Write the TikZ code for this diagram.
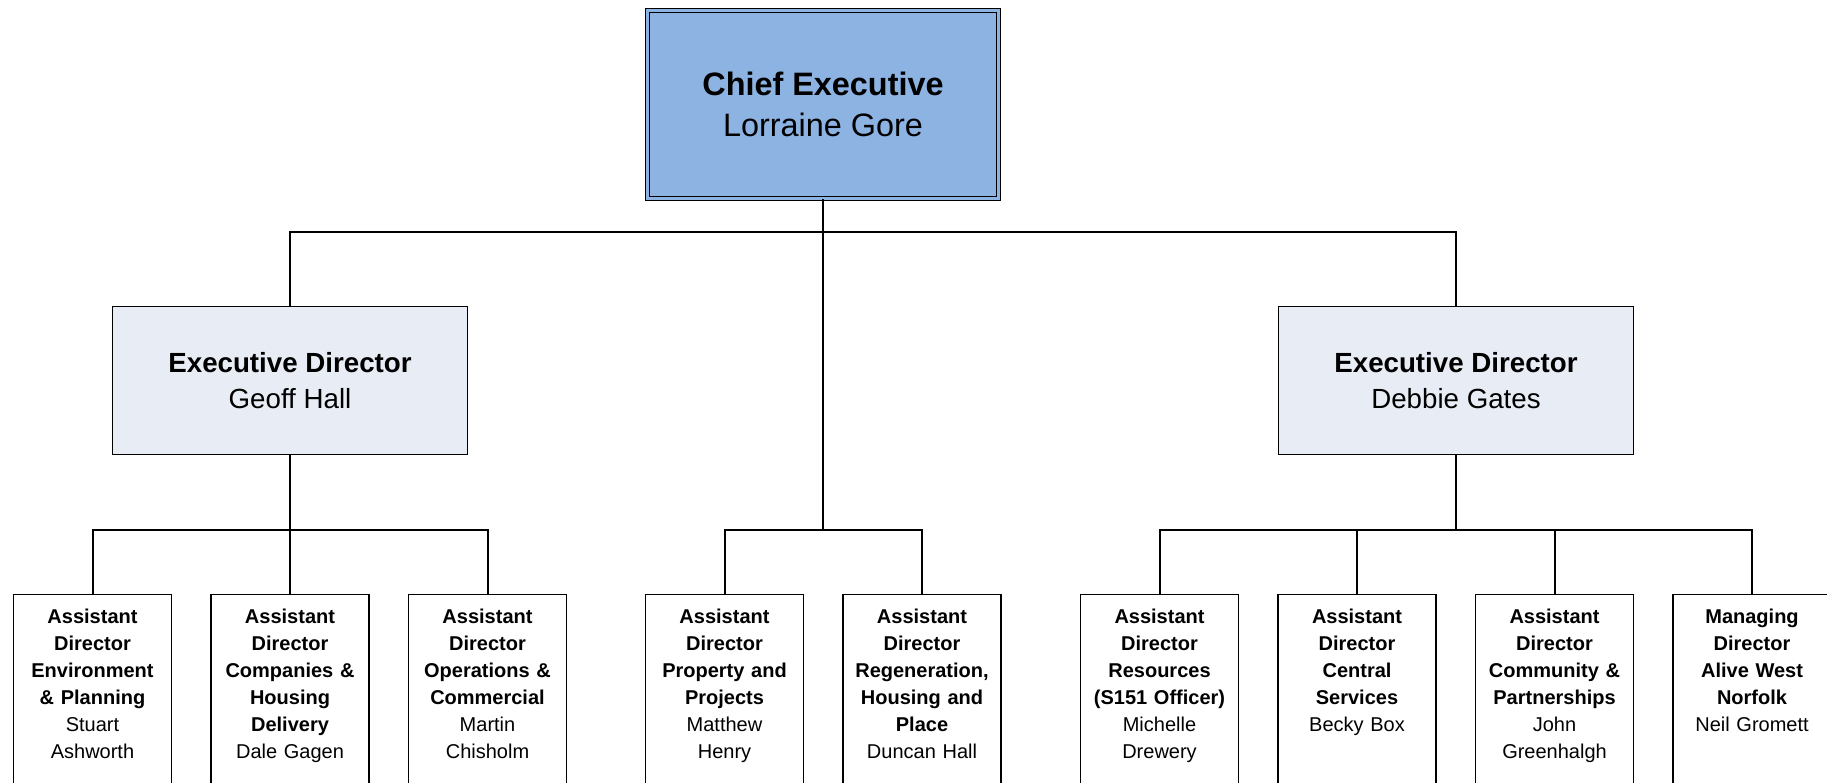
\documentclass[tikz,border=0pt]{standalone}
\usepackage{fontspec}
\setmainfont{Liberation Sans}
\definecolor{chiefblue}{RGB}{141,179,226}
\definecolor{execgrey}{RGB}{232,237,245}
\begin{document}
\begin{tikzpicture}[x=1pt, y=-1pt,
    link/.style={line width=2pt},
    chiefbox/.style={draw, line width=1.3pt, double=chiefblue, double distance=2.5pt,
        fill=chiefblue, minimum width=351pt, minimum height=188pt, align=center,
        font=\fontsize{32.4}{40.8}\selectfont},
    execbox/.style={draw, line width=1.5pt, fill=execgrey, minimum width=355pt,
        minimum height=148pt, align=center, font=\fontsize{27.7}{36}\selectfont},
    adbox/.style={draw, line width=1.3pt, fill=white, anchor=north,
        minimum width=158pt, minimum height=240pt},
    adtext/.style={anchor=north, inner sep=0pt, text width=156pt, align=center,
        font=\fontsize{20}{27}\selectfont\bfseries}]
    \useasboundingbox (0,0) rectangle (1827,783);
    \fill[white] (0,0) rectangle (1827,783);
    \clip (0,0) rectangle (1827,783);
    % top levels
    \node[chiefbox] (ce) at (823,104.5) {\textbf{Chief Executive}\\Lorraine Gore};
    \node[execbox] (edgh) at (290,380.5) {\textbf{Executive Director}\\Geoff Hall};
    \node[execbox] (eddg) at (1456,380.5) {\textbf{Executive Director}\\Debbie Gates};
    % assistant directors
    \node[adbox] (envp) at (92.5,594) {};
    \node[adbox] (chd) at (290,594) {};
    \node[adbox] (opsc) at (487.5,594) {};
    \node[adbox] (prop) at (724.5,594) {};
    \node[adbox] (rhp) at (922,594) {};
    \node[adbox] (res) at (1159.5,594) {};
    \node[adbox] (cens) at (1357,594) {};
    \node[adbox] (comp) at (1554.5,594) {};
    \node[adbox] (awn) at (1752,594) {};
    \node[adtext] at (envp.north |- 0,609) {Assistant\\Director\\Environment\\\& Planning\\\mdseries Stuart\\Ashworth};
    \node[adtext] at (chd.north |- 0,609) {Assistant\\Director\\Companies \&\\Housing\\Delivery\\\mdseries Dale Gagen};
    \node[adtext] at (opsc.north |- 0,609) {Assistant\\Director\\Operations \&\\Commercial\\\mdseries Martin\\Chisholm};
    \node[adtext] at (prop.north |- 0,609) {Assistant\\Director\\Property and\\Projects\\\mdseries Matthew\\Henry};
    \node[adtext] at (rhp.north |- 0,609) {Assistant\\Director\\Regeneration,\\Housing and\\Place\\\mdseries Duncan Hall};
    \node[adtext] at (res.north |- 0,609) {Assistant\\Director\\Resources\\(S151 Officer)\\\mdseries Michelle\\Drewery};
    \node[adtext] at (cens.north |- 0,609) {Assistant\\Director\\Central\\Services\\\mdseries Becky Box};
    \node[adtext] at (comp.north |- 0,609) {Assistant\\Director\\Community \&\\Partnerships\\\mdseries John\\Greenhalgh};
    \node[adtext] at (awn.north |- 0,609) {Managing\\Director\\Alive West\\Norfolk\\\mdseries Neil Gromett};
    % connectors
    \coordinate (topbus) at (823,232);
    \coordinate (lbus) at (290,530);
    \coordinate (cbus) at (823,530);
    \coordinate (rbus) at (1456,530);
    \draw[link] (edgh.north) |- (topbus) -| (eddg.north);
    \draw[link] (ce.south) -- (cbus);
    \draw[link] (prop.north) |- (cbus) -| (rhp.north);
    \draw[link] (edgh.south) -- (lbus);
    \draw[link] (envp.north) |- (lbus) -| (opsc.north);
    \draw[link] (chd.north) -- (lbus);
    \draw[link] (eddg.south) -- (rbus);
    \draw[link] (res.north) |- (rbus) -| (awn.north);
    \draw[link] (cens.north) -- (cens.north |- rbus);
    \draw[link] (comp.north) -- (comp.north |- rbus);
\end{tikzpicture}
\end{document}
